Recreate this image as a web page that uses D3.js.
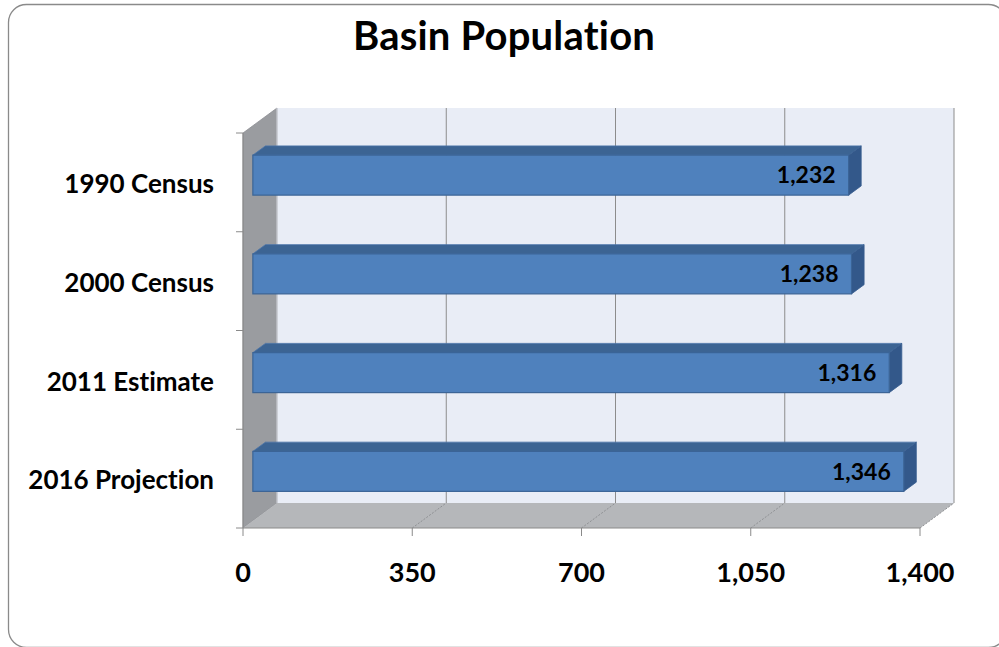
<!DOCTYPE html>
<html>
<head>
<meta charset="utf-8">
<script src="https://cdn.jsdelivr.net/npm/d3@7"></script>
<style>
  html, body { margin: 0; padding: 0; background: #fff; overflow: hidden; }
  svg { display: block; }
  text { font-family: Lato, "Open Sans", "DejaVu Sans", sans-serif; font-weight: bold; fill: #000;
         font-variant-ligatures: none; font-feature-settings: "liga" 0, "clig" 0; }
</style>
</head>
<body>
<svg id="chart" width="999" height="647"></svg>
<script>
// ---- data ----
const title = "Basin Population";
const categories = ["1990 Census", "2000 Census", "2011 Estimate", "2016 Projection"];
const values = [1232, 1238, 1316, 1346];
const tickValues = [0, 350, 700, 1050, 1400];
const tickLabels = ["0", "350", "700", "1,050", "1,400"];
const valueLabels = ["1,232", "1,238", "1,316", "1,346"];

// ---- layout ----
const svg = d3.select("#chart");

const x = d3.scaleLinear().domain([0, 1400]).range([243, 920]);
const y = d3.scaleBand().domain(categories).range([133, 528]);
const DX = 34, DY = -25;           // depth offset of back wall
const barT0 = 0.29, barT1 = 0.66;  // bar front/back depth
const barH = 40;

// frame
svg.append("rect")
  .attr("x", 8.5).attr("y", 4.5).attr("width", 998).attr("height", 643)
  .attr("rx", 18).attr("ry", 18)
  .attr("fill", "#fff").attr("stroke", "#8a8a8a").attr("stroke-width", 1.3);

// title
svg.append("text").attr("x", 504).attr("y", 50)
  .attr("text-anchor", "middle").style("font-size", "40px")
  .style("letter-spacing", "0.2px").style("font-variant-ligatures", "none")
  .text(title);

const x0 = x.range()[0], x1 = x.range()[1];
const yTop = y.range()[0], yBot = y.range()[1];
const pt = (px, py, t) => [px + DX * t, py + DY * t];

// back wall
svg.append("polygon")
  .attr("points", [pt(x0, yTop, 1), pt(x1, yTop, 1), pt(x1, yBot, 1), pt(x0, yBot, 1)].join(" "))
  .attr("fill", "#e9edf6");

// left wall
svg.append("polygon")
  .attr("points", [[x0, yTop], pt(x0, yTop, 1), pt(x0, yBot, 1), [x0, yBot]].join(" "))
  .attr("fill", "#9a9ca0").attr("stroke", "#8a8c90").attr("stroke-width", 0.8);

// floor
svg.append("polygon")
  .attr("points", [[x0, yBot], pt(x0, yBot, 1), pt(x1, yBot, 1), [x1, yBot]].join(" "))
  .attr("fill", "#b5b7ba");

// gridlines on back wall
svg.append("g").selectAll("line").data(tickValues).join("line")
  .attr("x1", d => x(d) + DX).attr("x2", d => x(d) + DX)
  .attr("y1", yTop + DY).attr("y2", yBot + DY)
  .attr("stroke", d => d === 0 ? "#d8dbe2" : "#8c8c8c").attr("stroke-width", 1);

// diagonal lines on floor
svg.append("g").selectAll("line").data(tickValues.slice(1)).join("line")
  .attr("x1", d => x(d)).attr("y1", yBot)
  .attr("x2", d => x(d) + DX).attr("y2", yBot + DY)
  .attr("stroke", "#8f9194").attr("stroke-width", 1).attr("stroke-dasharray", "2,1.5");

// axes lines
const axisColor = "#8a8a8a";
svg.append("line").attr("x1", x0).attr("x2", x0).attr("y1", yTop).attr("y2", yBot)
  .attr("stroke", axisColor);
svg.append("line").attr("x1", x0).attr("x2", x1).attr("y1", yBot).attr("y2", yBot)
  .attr("stroke", axisColor);
// category ticks
const catTicks = categories.map(c => y(c)).concat([yBot]);
svg.append("g").selectAll("line").data(catTicks).join("line")
  .attr("x1", x0 - 7).attr("x2", x0).attr("y1", d => d).attr("y2", d => d)
  .attr("stroke", axisColor);
// value ticks
svg.append("g").selectAll("line").data(tickValues).join("line")
  .attr("x1", d => x(d)).attr("x2", d => x(d)).attr("y1", yBot).attr("y2", yBot + 8)
  .attr("stroke", axisColor);

// tick labels
svg.append("g").selectAll("text").data(tickValues).join("text")
  .attr("x", d => x(d)).attr("y", 582)
  .attr("text-anchor", "middle").style("font-size", "27px")
  .text((d, i) => tickLabels[i]);

// category labels
svg.append("g").selectAll("text").data(categories).join("text")
  .attr("x", 214).attr("y", d => y(d) + y.bandwidth() / 2 + 1.5)
  .attr("dy", "0.36em")
  .attr("text-anchor", "end").style("font-size", "26px")
  .text(d => d);

// bars
const bars = svg.append("g").selectAll("g").data(categories).join("g");
bars.each(function (c, i) {
  const g = d3.select(this);
  const cy = y(c) + y.bandwidth() / 2;
  const fy0 = cy - barH / 2 + DY * barT0, fy1 = cy + barH / 2 + DY * barT0;
  const fx0 = x(0) + DX * barT0, fx1 = x(values[i]) + DX * barT0;
  const ddx = DX * (barT1 - barT0), ddy = DY * (barT1 - barT0);
  // top face
  g.append("polygon")
    .attr("points", [[fx0, fy0], [fx0 + ddx, fy0 + ddy], [fx1 + ddx, fy0 + ddy], [fx1, fy0]].join(" "))
    .attr("fill", "#3c6493").attr("stroke", "#4a74a8").attr("stroke-width", 0.8);
  // end face
  g.append("polygon")
    .attr("points", [[fx1, fy0], [fx1 + ddx, fy0 + ddy], [fx1 + ddx, fy1 + ddy], [fx1, fy1]].join(" "))
    .attr("fill", "#33588a").attr("stroke", "#3a6090").attr("stroke-width", 0.8);
  // front face
  g.append("rect")
    .attr("x", fx0).attr("y", fy0).attr("width", fx1 - fx0).attr("height", fy1 - fy0)
    .attr("fill", "#4f81bd").attr("stroke", "#3b6496").attr("stroke-width", 1.2);
  // value label
  g.append("text")
    .attr("x", fx1 - 13).attr("y", (fy0 + fy1) / 2).attr("dy", "0.36em")
    .attr("text-anchor", "end").style("font-size", "23px")
    .text(valueLabels[i]);
});
</script>
</body>
</html>
